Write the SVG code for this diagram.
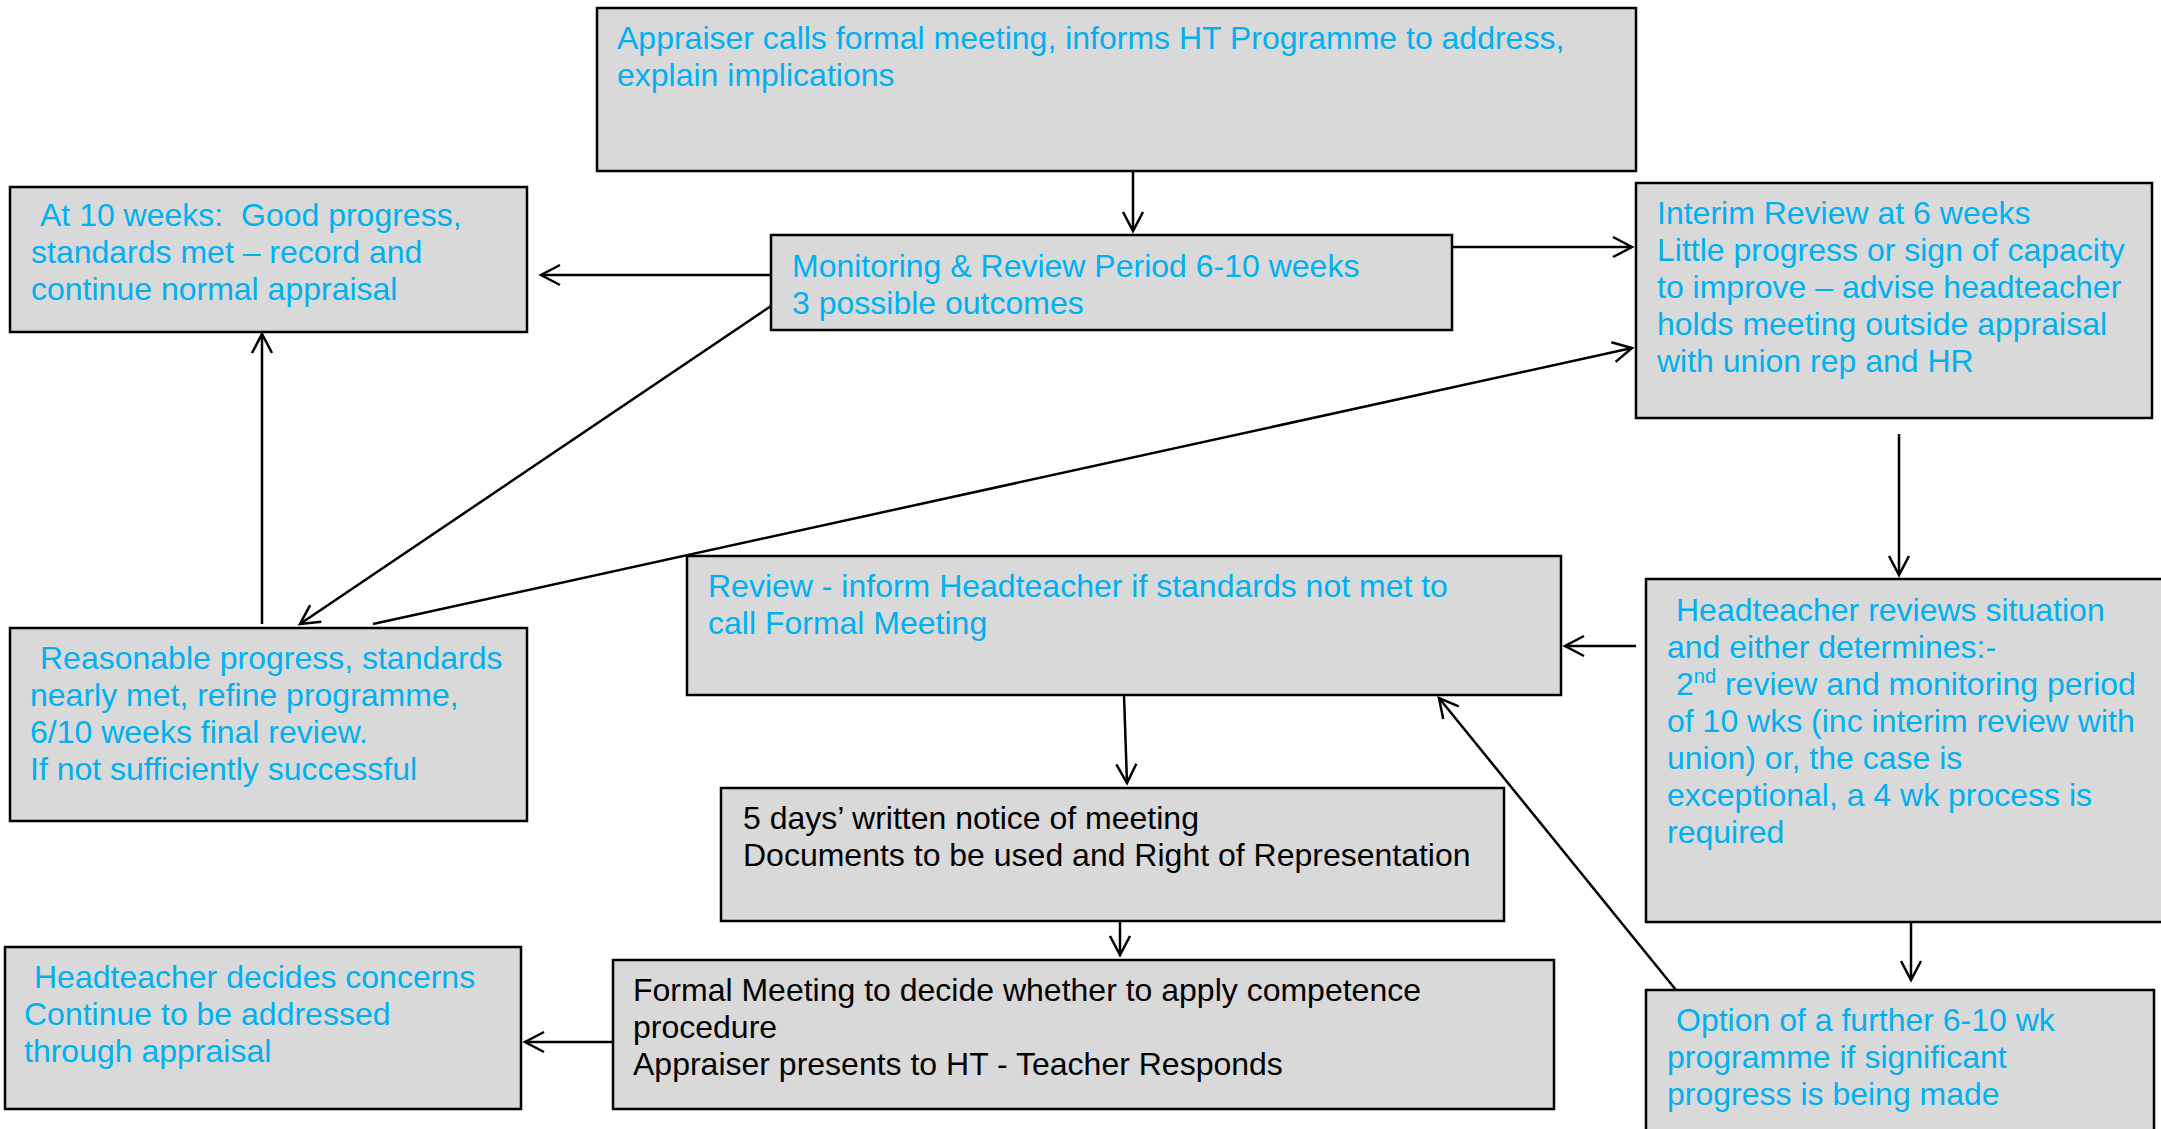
<svg xmlns="http://www.w3.org/2000/svg" width="2161" height="1129" viewBox="0 0 2161 1129">
<style>
.box{fill:#D9D9D9;stroke:#000;stroke-width:2.5}
.t{font-family:"Liberation Sans",Arial,sans-serif;font-size:32px;fill:#00B0F0}
.k{fill:#000}
.c{stroke:#000;stroke-width:2.5;fill:none;marker-end:url(#ah)}
</style>
<defs>
<marker id="ah" viewBox="0 0 22 22" refX="20" refY="11" markerWidth="22" markerHeight="22" markerUnits="userSpaceOnUse" orient="auto" overflow="visible">
<path d="M1,1 L20,11 L1,21" fill="none" stroke="#000" stroke-width="2.5"/>
</marker>
</defs>
<rect width="2161" height="1129" fill="#fff"/>
<g id="connectors">
<line class="c" x1="1133" y1="171" x2="1133" y2="231"/>
<line class="c" x1="771" y1="275" x2="541" y2="275"/>
<line class="c" x1="1452" y1="247" x2="1632" y2="247"/>
<line class="c" x1="771" y1="306" x2="300" y2="624"/>
<line class="c" x1="373" y1="624" x2="1632" y2="348"/>
<line class="c" x1="262" y1="624" x2="262" y2="334"/>
<line class="c" x1="1899" y1="434" x2="1899" y2="575"/>
<line class="c" x1="1636" y1="646" x2="1565" y2="646"/>
<line class="c" x1="1124" y1="695" x2="1127" y2="783"/>
<line class="c" x1="1120" y1="921" x2="1120" y2="955"/>
<line class="c" x1="613" y1="1042" x2="525" y2="1042"/>
<line class="c" x1="1911" y1="922" x2="1911" y2="980"/>
<line class="c" x1="1676" y1="990" x2="1439" y2="698"/>
</g>
<g id="n-formal-call">
<rect class="box" x="597" y="8" width="1039" height="163"/>
<text class="t"><tspan x="617" y="49">Appraiser calls formal meeting, informs HT Programme to address,</tspan><tspan x="617" y="86">explain implications</tspan></text>
</g>
<g id="n-monitoring">
<rect class="box" x="771" y="235" width="681" height="95"/>
<text class="t"><tspan x="792" y="277">Monitoring &amp; Review Period 6-10 weeks</tspan><tspan x="792" y="314">3 possible outcomes</tspan></text>
</g>
<g id="n-interim">
<rect class="box" x="1636" y="183" width="516" height="235"/>
<text class="t"><tspan x="1657" y="224">Interim Review at 6 weeks</tspan><tspan x="1657" y="261">Little progress or sign of capacity</tspan><tspan x="1657" y="298">to improve – advise headteacher</tspan><tspan x="1657" y="335">holds meeting outside appraisal</tspan><tspan x="1657" y="372">with union rep and HR</tspan></text>
</g>
<g id="n-ten-weeks">
<rect class="box" x="10" y="187" width="517" height="145"/>
<text class="t" style="white-space:pre"><tspan x="40" y="226">At 10 weeks:  Good progress,</tspan><tspan x="31" y="263">standards met – record and</tspan><tspan x="31" y="300">continue normal appraisal</tspan></text>
</g>
<g id="n-reasonable">
<rect class="box" x="10" y="628" width="517" height="193"/>
<text class="t"><tspan x="40" y="669">Reasonable progress, standards</tspan><tspan x="30" y="706">nearly met, refine programme,</tspan><tspan x="30" y="743">6/10 weeks final review.</tspan><tspan x="30" y="780">If not sufficiently successful</tspan></text>
</g>
<g id="n-review-inform">
<rect class="box" x="687" y="556" width="874" height="139"/>
<text class="t"><tspan x="708" y="597">Review - inform Headteacher if standards not met to</tspan><tspan x="708" y="634">call Formal Meeting</tspan></text>
</g>
<g id="n-notice">
<rect class="box" x="721" y="788" width="783" height="133"/>
<text class="t k"><tspan x="743" y="829">5 days’ written notice of meeting</tspan><tspan x="743" y="866">Documents to be used and Right of Representation</tspan></text>
</g>
<g id="n-formal-meeting">
<rect class="box" x="613" y="960" width="941" height="149"/>
<text class="t k"><tspan x="633" y="1001">Formal Meeting to decide whether to apply competence</tspan><tspan x="633" y="1038">procedure</tspan><tspan x="633" y="1075">Appraiser presents to HT - Teacher Responds</tspan></text>
</g>
<g id="n-ht-decides">
<rect class="box" x="5" y="947" width="516" height="162"/>
<text class="t"><tspan x="34" y="988">Headteacher decides concerns</tspan><tspan x="24" y="1025">Continue to be addressed</tspan><tspan x="24" y="1062">through appraisal</tspan></text>
</g>
<g id="n-ht-reviews">
<rect class="box" x="1646" y="579" width="525" height="343"/>
<text class="t"><tspan x="1676" y="621">Headteacher reviews situation</tspan><tspan x="1667" y="658">and either determines:-</tspan><tspan x="1676" y="695">2</tspan><tspan font-size="20" dy="-12">nd</tspan><tspan dy="12"> review and monitoring period</tspan><tspan x="1667" y="732">of 10 wks (inc interim review with</tspan><tspan x="1667" y="769">union) or, the case is</tspan><tspan x="1667" y="806">exceptional, a 4 wk process is</tspan><tspan x="1667" y="843">required</tspan></text>
</g>
<g id="n-option">
<rect class="box" x="1646" y="990" width="508" height="150"/>
<text class="t"><tspan x="1676" y="1031">Option of a further 6-10 wk</tspan><tspan x="1667" y="1068">programme if significant</tspan><tspan x="1667" y="1105">progress is being made</tspan></text>
</g>
</svg>
